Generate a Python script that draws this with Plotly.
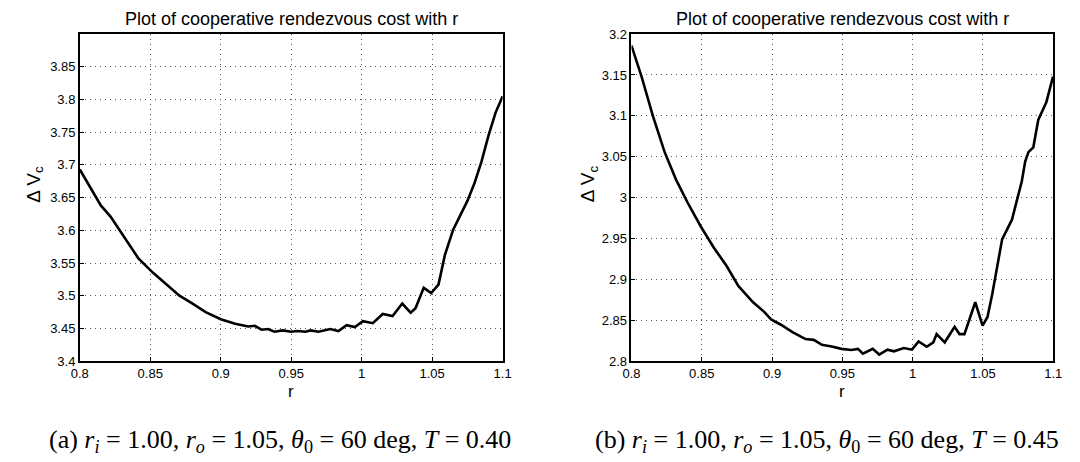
import plotly.graph_objects as go

# ---- data ----
r_a = [0.8, 0.8126, 0.8149, 0.8218, 0.8312, 0.8416, 0.852, 0.8614, 0.8707, 0.880, 0.8893,
       0.90, 0.9102, 0.9195, 0.9242, 0.9289, 0.9335, 0.9381, 0.9440, 0.9498, 0.9544,
       0.960, 0.9637, 0.9693, 0.9777, 0.9835, 0.9893, 0.9951, 1.0009, 1.0079, 1.0149,
       1.0219, 1.0288, 1.0347, 1.0382, 1.0440, 1.0493, 1.0545, 1.059, 1.0649, 1.0707,
       1.075, 1.08, 1.085, 1.09, 1.095, 1.1]
dv_a = [3.693, 3.6455, 3.638, 3.621, 3.591, 3.557, 3.535, 3.518, 3.500, 3.488, 3.475,
        3.464, 3.457, 3.453, 3.454, 3.448, 3.449, 3.445, 3.447, 3.445, 3.446,
        3.445, 3.447, 3.445, 3.449, 3.446, 3.455, 3.452, 3.461, 3.458, 3.472,
        3.469, 3.488, 3.474, 3.481, 3.512, 3.504, 3.517, 3.562, 3.601, 3.626,
        3.645, 3.672, 3.705, 3.745, 3.78, 3.805]

r_b = [0.8, 0.8072, 0.8154, 0.8236, 0.8317, 0.8399, 0.8492, 0.8585, 0.8678, 0.8760,
       0.8865, 0.8946, 0.8993, 0.9063, 0.9145, 0.9238, 0.9296, 0.9355, 0.9424, 0.9494,
       0.9564, 0.9611, 0.9646, 0.9716, 0.9762, 0.9821, 0.9867, 0.9937, 0.9995, 1.0042,
       1.0100, 1.0147, 1.017, 1.0228, 1.0298, 1.0333, 1.0368, 1.0445, 1.0497, 1.0532,
       1.0566, 1.0636, 1.0706, 1.0776, 1.080, 1.0823, 1.0858, 1.0893, 1.0951, 1.0998]
dv_b = [3.186, 3.148, 3.099, 3.0556, 3.022, 2.994, 2.965, 2.939, 2.916, 2.892,
        2.872, 2.860, 2.851, 2.8445, 2.8355, 2.827, 2.826, 2.820, 2.818, 2.815,
        2.8136, 2.815, 2.809, 2.815, 2.808, 2.814, 2.812, 2.816, 2.814, 2.824,
        2.8175, 2.823, 2.833, 2.823, 2.842, 2.833, 2.833, 2.872, 2.8434, 2.854,
        2.882, 2.949, 2.973, 3.020, 3.044, 3.0556, 3.0615, 3.095, 3.117, 3.148]

x_ticks = [0.8, 0.85, 0.9, 0.95, 1.0, 1.05, 1.1]
x_ticktext = ["0.8", "0.85", "0.9", "0.95", "1", "1.05", "1.1"]
y_ticks_a = [3.4, 3.45, 3.5, 3.55, 3.6, 3.65, 3.7, 3.75, 3.8, 3.85]
y_ticktext_a = ["3.4", "3.45", "3.5", "3.55", "3.6", "3.65", "3.7", "3.75", "3.8", "3.85"]
y_ticks_b = [2.8, 2.85, 2.9, 2.95, 3.0, 3.05, 3.1, 3.15, 3.2]
y_ticktext_b = ["2.8", "2.85", "2.9", "2.95", "3", "3.05", "3.1", "3.15", "3.2"]

title_text = "Plot of cooperative rendezvous cost with r"
caption_a = "(a) <i>r<sub>i</sub></i> = 1.00, <i>r<sub>o</sub></i> = 1.05, <i>θ</i><sub>0</sub> = 60 deg, <i>T</i> = 0.40"
caption_b = "(b) <i>r<sub>i</sub></i> = 1.00, <i>r<sub>o</sub></i> = 1.05, <i>θ</i><sub>0</sub> = 60 deg, <i>T</i> = 0.45"

W, H = 1080, 462
fig = go.Figure()
fig.add_trace(go.Scatter(x=r_a, y=dv_a, mode="lines", line=dict(color="black", width=2.6),
                         xaxis="x", yaxis="y", showlegend=False))
fig.add_trace(go.Scatter(x=r_b, y=dv_b, mode="lines", line=dict(color="black", width=2.6),
                         xaxis="x2", yaxis="y2", showlegend=False))

sans = "Liberation Sans, Arial, sans-serif"
axis_common = dict(showline=True, linecolor="black", linewidth=1.5, mirror=True,
                   showgrid=True, gridcolor="#555", gridwidth=1, griddash="1px,4px",
                   zeroline=False, ticks="inside", ticklen=4, tickcolor="black",
                   tickfont=dict(family=sans, size=13, color="black"))

fig.update_layout(
    width=W, height=H, margin=dict(l=0, r=0, t=0, b=0),
    paper_bgcolor="white", plot_bgcolor="white",
    xaxis=dict(domain=[72 / W, 502 / W], range=[0.8, 1.1], tickvals=x_ticks,
               ticktext=x_ticktext, anchor="y", **axis_common),
    yaxis=dict(domain=[1 - 366 / H, 1 - 28 / H], range=[3.4, 3.9], tickvals=y_ticks_a,
               ticktext=y_ticktext_a, anchor="x", **axis_common),
    xaxis2=dict(domain=[633 / W, 1062 / W], range=[0.8, 1.1], tickvals=x_ticks,
                ticktext=x_ticktext, anchor="y2", **axis_common),
    yaxis2=dict(domain=[1 - 366 / H, 1 - 28 / H], range=[2.8, 3.2], tickvals=y_ticks_b,
                ticktext=y_ticktext_b, anchor="x2", **axis_common),
)

ann = []
for cx in [(72 + 502) / 2, (633 + 1062) / 2]:
    ann.append(dict(x=cx / W, y=1 - 12 / H, xref="paper", yref="paper", text=title_text,
                    showarrow=False, xanchor="center", yanchor="middle",
                    font=dict(family=sans, size=18, color="black")))
    ann.append(dict(x=cx / W, y=1 - 397 / H, xref="paper", yref="paper", text="r",
                    showarrow=False, xanchor="center", yanchor="middle",
                    font=dict(family=sans, size=17, color="black")))
for lx in [26, 590]:
    ann.append(dict(x=lx / W, y=1 - 183 / H, xref="paper", yref="paper",
                    text="Δ V<sub>c</sub>", textangle=-90, showarrow=False,
                    xanchor="center", yanchor="middle",
                    font=dict(family=sans, size=19, color="black")))
serif = "Liberation Serif, DejaVu Serif, serif"
ann.append(dict(x=276 / W, y=1 - 449 / H, xref="paper", yref="paper", text=caption_a,
                showarrow=False, xanchor="center", yanchor="middle",
                font=dict(family=serif, size=26, color="black")))
ann.append(dict(x=832 / W, y=1 - 449 / H, xref="paper", yref="paper", text=caption_b,
                showarrow=False, xanchor="center", yanchor="middle",
                font=dict(family=serif, size=26, color="black")))
fig.update_layout(annotations=ann)

fig.write_html("out.html")
